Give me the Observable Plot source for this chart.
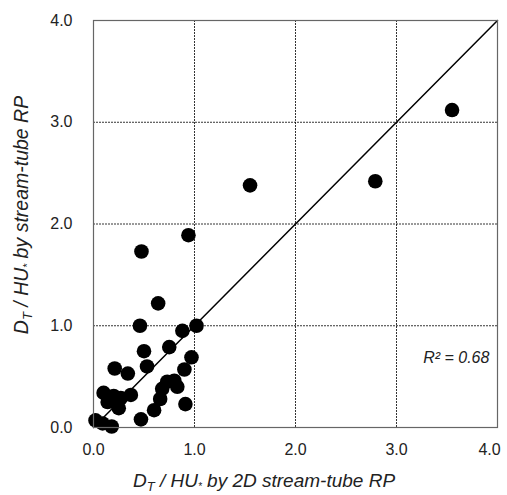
<!DOCTYPE html>
<html><head><meta charset="utf-8">
<script src="https://cdn.jsdelivr.net/npm/d3@7"></script>
<script src="https://cdn.jsdelivr.net/npm/@observablehq/plot@0.6"></script>
<style>body{margin:0;background:#fff} svg{display:block}</style>
</head><body><div id="chart"></div>
<script>
const xValues = [0.02, 0.09, 0.18, 0.10, 0.20, 0.14, 0.27, 0.25, 0.37, 0.21, 0.34, 0.47, 0.60, 0.66, 0.68, 0.73, 0.80, 0.83, 0.91, 0.90, 0.97, 0.53, 0.50, 0.75, 0.88, 1.02, 0.46, 0.64, 0.475, 0.94, 1.55, 2.79, 3.55];
const yValues = [0.07, 0.04, 0.01, 0.34, 0.31, 0.25, 0.29, 0.19, 0.32, 0.58, 0.53, 0.08, 0.17, 0.28, 0.38, 0.45, 0.46, 0.40, 0.23, 0.57, 0.69, 0.60, 0.75, 0.79, 0.95, 1.00, 1.00, 1.22, 1.73, 1.89, 2.38, 2.42, 3.12];
const tickValues = [0, 1, 2, 3, 4];
const gridValues = [1, 2, 3];
const oneToOne = [0, 4];
const r2Text = ["R\u00B2 = 0.68"];

const points = xValues.map((x, i) => ({x, y: yValues[i]}));
const FONT = "'Liberation Sans', Arial, sans-serif";
const fmt = d3.format(".1f");
const lastTick = tickValues[tickValues.length - 1];

const plot = Plot.plot({
  width: 507, height: 495,
  marginLeft: 93, marginRight: 10, marginTop: 20, marginBottom: 68,
  style: {fontFamily: FONT, fontSize: "16px", color: "#222", background: "#fff"},
  x: {domain: [0, 4]},
  y: {domain: [0, 4]},
  marks: [
    Plot.ruleX(gridValues, {stroke: "#000", strokeWidth: 0.8, strokeDasharray: "2,1"}),
    Plot.ruleY(gridValues, {stroke: "#000", strokeWidth: 0.8, strokeDasharray: "2,1"}),
    Plot.line(oneToOne, {x: d => d, y: d => d, stroke: "#000", strokeWidth: 1.5}),
    Plot.dot(points, {x: "x", y: "y", r: 7.3, fill: "#000", stroke: "none"}),
    Plot.text(r2Text, {x: 3.92, y: 0.68, text: d => d, textAnchor: "end", fontStyle: "italic", fontSize: 16, fill: "#222"}),
    Plot.frame({stroke: "#666", strokeWidth: 1.2}),
    Plot.axisX(tickValues.filter(t => t !== lastTick), {tickSize: 0, tickPadding: 16, tickFormat: fmt, label: null, fontSize: 16}),
    Plot.axisX([lastTick], {tickSize: 0, tickPadding: 16, tickFormat: fmt, label: null, fontSize: 16, dx: -8}),
    Plot.axisY(tickValues, {tickSize: 0, tickPadding: 21, tickFormat: fmt, label: null, fontSize: 16})
  ]
});

const svg = d3.select(plot);
function addLabel(g, tail) {
  g.append("tspan").text("D");
  g.append("tspan").attr("baseline-shift", "-4").attr("font-size", 13).text("T");
  g.append("tspan").text(" / HU");
  g.append("tspan").attr("baseline-shift", "-3").attr("font-size", 10).text("*");
  g.append("tspan").text(tail);
}
const xl = svg.append("text")
  .attr("x", 264).attr("y", 487)
  .attr("text-anchor", "middle").attr("font-style", "italic").attr("font-size", 19)
  .attr("fill", "#222").attr("font-family", FONT);
addLabel(xl, " by 2D stream-tube RP");
const yl = svg.append("text")
  .attr("transform", "translate(28,215) rotate(-90)")
  .attr("text-anchor", "middle").attr("font-style", "italic").attr("font-size", 19.5)
  .attr("fill", "#222").attr("font-family", FONT);
addLabel(yl, " by stream-tube RP");

document.getElementById("chart").appendChild(plot);
</script>
</body></html>
